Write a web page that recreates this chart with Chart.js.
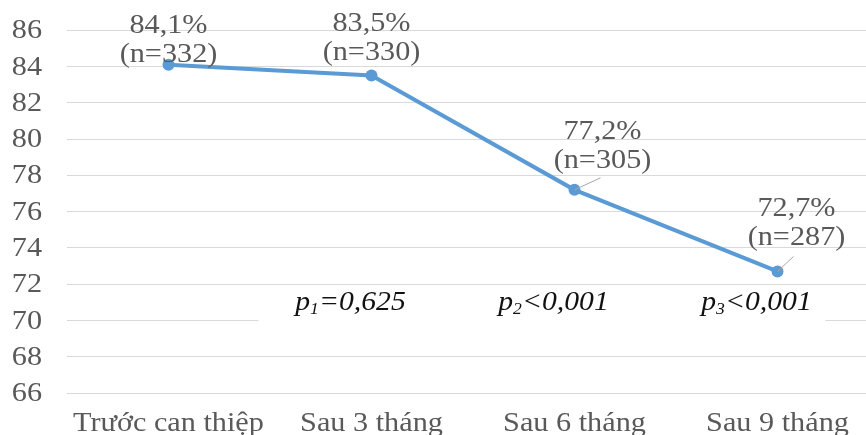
<!DOCTYPE html>
<html>
<head>
<meta charset="utf-8">
<script src="https://cdn.jsdelivr.net/npm/chart.js@4.4.1/dist/chart.umd.min.js"></script>
<style>
  html, body { margin: 0; padding: 0; background: #fff; overflow: hidden; }
  #wrap { width: 885px; height: 450px; overflow: hidden; }
  #chart { display: block; margin-top: -11px; }
</style>
</head>
<body>
<div id="wrap"><canvas id="chart" width="885" height="461"></canvas></div>
<script>
// data
const categories = ['Trước can thiệp', 'Sau 3 tháng', 'Sau 6 tháng', 'Sau 9 tháng'];
const percents = [84.1, 83.5, 77.2, 72.7];
const counts = [332, 330, 305, 287];
const pLabels = [
  { idx: 1, sub: '1', rest: '=0,625' },
  { idx: 2, sub: '2', rest: '<0,001' },
  { idx: 3, sub: '3', rest: '<0,001' },
];
const yMin = 66;
const yMax = 86;
const yStep = 2;

const FONT = '"Liberation Serif", "Times New Roman", serif';
const GREY = '#595959';
const STRETCH = 1.12; // the source picture is a bit wider than tall

// label placement relative to each point (px)
const labelOffsets = [[0, -10], [0, -23], [28, -29], [19, -34]];
const leaderLines = [null, null, [26, -12], [16, -15]];

// draws text stretched horizontally around its anchor
function wideText(ctx, text, x, y, k) {
  ctx.save();
  ctx.translate(x, y);
  ctx.scale(k || STRETCH, 1);
  ctx.fillText(text, 0, 0);
  ctx.restore();
}

const annotate = {
  id: 'annotate',
  afterDatasetsDraw(chart) {
    const ctx = chart.ctx;
    const x = chart.scales.x;
    const y = chart.scales.y;
    const meta = chart.getDatasetMeta(0);

    ctx.save();
    // white box behind p-values (hides part of the 70 gridline)
    const bx0 = x.getPixelForValue(0.443);
    const bx1 = x.getPixelForValue(3.236);
    const by0 = y.getPixelForValue(71.88);
    const by1 = y.getPixelForValue(69.85);
    ctx.fillStyle = '#fff';
    ctx.fillRect(bx0, by0, bx1 - bx0, by1 - by0);

    // p-values
    ctx.fillStyle = '#111';
    ctx.textBaseline = 'alphabetic';
    ctx.textAlign = 'left';
    const k = 1.1;
    pLabels.forEach(p => {
      const main = 'italic 27px ' + FONT;
      const small = 'italic 16px ' + FONT;
      ctx.font = main;
      const wP = ctx.measureText('p').width * k;
      const wR = ctx.measureText(p.rest).width * k;
      ctx.font = small;
      const wS = ctx.measureText(p.sub).width * k;
      const total = wP + wS + wR;
      const cx = x.getPixelForValue(p.idx) - 21 - total / 2;
      const base = y.getPixelForValue(70.55);
      ctx.font = main;
      wideText(ctx, 'p', cx, base, k);
      ctx.font = small;
      wideText(ctx, p.sub, cx + wP, base + 4, k);
      ctx.font = main;
      wideText(ctx, p.rest, cx + wP + wS, base, k);
    });

    // leader lines
    ctx.strokeStyle = '#a6a6a6';
    ctx.lineWidth = 1;
    meta.data.forEach((pt, i) => {
      const l = leaderLines[i];
      if (!l) return;
      ctx.beginPath();
      ctx.moveTo(pt.x, pt.y);
      ctx.lineTo(pt.x + l[0], pt.y + l[1]);
      ctx.stroke();
    });

    // data labels
    ctx.fillStyle = GREY;
    ctx.font = '27px ' + FONT;
    ctx.textAlign = 'center';
    ctx.textBaseline = 'middle';
    meta.data.forEach((pt, i) => {
      const o = labelOffsets[i];
      const cx = pt.x + o[0];
      const cy = pt.y + o[1];
      wideText(ctx, percents[i].toFixed(1).replace('.', ',') + '%', cx, cy - 29);
      wideText(ctx, '(n=' + counts[i] + ')', cx, cy);
    });

    // axis labels (Chart.js ticks are laid out but drawn transparent)
    y.ticks.forEach((t, i) => {
      ctx.textAlign = 'right';
      wideText(ctx, String(t.value), chart.chartArea.left - 25, y.getPixelForTick(i) + 1);
    });
    ctx.textAlign = 'center';
    x.ticks.forEach((t, i) => {
      wideText(ctx, categories[i], x.getPixelForTick(i), chart.chartArea.bottom + 31);
    });
    ctx.restore();
  }
};

new Chart(document.getElementById('chart'), {
  type: 'line',
  data: {
    labels: categories,
    datasets: [{
      data: percents,
      borderColor: '#5B9BD5',
      backgroundColor: '#5B9BD5',
      borderWidth: 4,
      pointRadius: 6,
      pointBackgroundColor: '#5B9BD5',
      pointBorderWidth: 0,
      tension: 0,
    }],
  },
  options: {
    responsive: false,
    animation: false,
    layout: { padding: { top: 0, right: 1, left: 0, bottom: 0 } },
    plugins: { legend: { display: false }, tooltip: { enabled: false } },
    scales: {
      x: {
        offset: true,
        grid: { display: false },
        border: { display: false },
        ticks: { color: 'rgba(0,0,0,0)', font: { family: FONT, size: 27 }, padding: 10, maxRotation: 0 },
        afterFit(s) { s.height = 57; },
      },
      y: {
        min: yMin,
        max: yMax,
        grid: { color: '#d9d9d9', lineWidth: 1, drawTicks: false },
        border: { display: false },
        ticks: { stepSize: yStep, autoSkip: false, color: 'rgba(0,0,0,0)', font: { family: FONT, size: 27 }, padding: 25 },
        afterFit(s) { s.width = 67; },
      },
    },
  },
  plugins: [annotate],
});
</script>
</body>
</html>
